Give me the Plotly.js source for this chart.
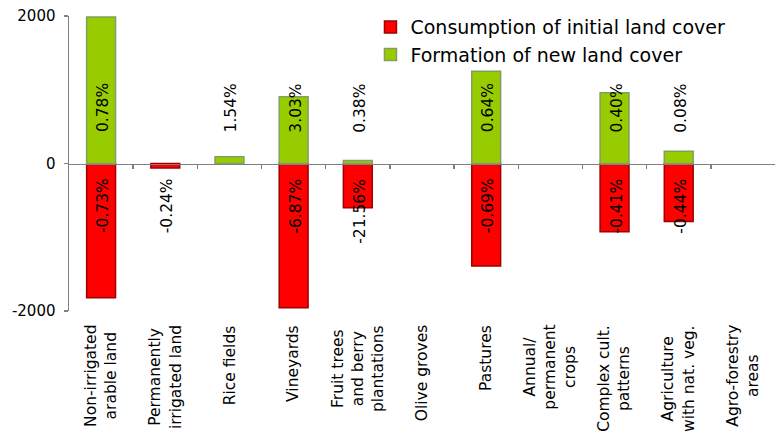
<!DOCTYPE html>
<html>
<head>
<meta charset="utf-8">
<script src="https://cdn.plot.ly/plotly-3.0.1.min.js"></script>
<style>html,body{margin:0;padding:0;background:#fff;}#chart{width:776px;height:435px;}</style>
</head>
<body>
<div id="chart"></div>
<script>
// ---- data ----
var categories = ["Non-irrigated arable land", "Permanently irrigated land", "Rice fields", "Vineyards",
  "Fruit trees and berry plantations", "Olive groves", "Pastures", "Annual/permanent crops",
  "Complex cult. patterns", "Agriculture with nat. veg.", "Agro-forestry areas"];
var tickLabels = ["Non-irrigated<br>arable land", "Permanently<br>irrigated land", "Rice fields", "Vineyards",
  "Fruit trees<br>and berry<br>plantations", "Olive groves", "Pastures", "Annual/<br>permanent<br>crops",
  "Complex cult.<br>patterns", "Agriculture<br>with nat. veg.", "Agro-forestry<br>areas"];
var consumption = [-1820, -60, null, -1955, -600, null, -1390, null, -925, -785, null];
var formation = [1985, null, 90, 905, 40, null, 1250, null, 958, 167, null];
var consumptionLabels = ["-0.73%", "-0.24%", null, "-6.87%", "-21.56%", null, "-0.69%", null, "-0.41%", "-0.44%", null];
var formationLabels = ["0.78%", null, "1.54%", "3.03%", "0.38%", null, "0.64%", null, "0.40%", "0.08%", null];
var seriesNames = ["Consumption of initial land cover", "Formation of new land cover"];
var yTicks = [-2000, 0, 2000];
var yTickText = ["-2000", "0", "2000"];

var yMin = -2000, yMax = 2000;

var traces = [
  {type: "bar", name: seriesNames[0], x: categories, y: consumption, width: 0.45,
   legendgroup: "a",
   marker: {color: "#FF0000", line: {color: "#A00000", width: 1.5}}, hoverinfo: "skip"},
  {type: "bar", name: seriesNames[1], x: categories, y: formation, width: 0.45,
   legendgroup: "b",
   marker: {color: "#99CC00", line: {color: "#7F9F63", width: 1.5}}, hoverinfo: "skip"}
];

var annotations = [];
var dataFont = {family: "DejaVu Sans, Verdana, sans-serif", size: 15.5, color: "#000"};
categories.forEach(function (c, i) {
  annotations.push({xref: "x", yref: "paper", x: c, y: -0.04, yanchor: "top", xanchor: "center",
    text: tickLabels[i], textangle: -90, showarrow: false, align: "center",
    font: {family: "DejaVu Sans, Verdana, sans-serif", size: 15.5, color: "#000"}});
  if (formationLabels[i]) annotations.push({xref: "x", yref: "y", x: c, y: 393, yanchor: "bottom",
    xanchor: "center", xshift: 2, text: formationLabels[i], textangle: -90, showarrow: false, font: dataFont});
  if (consumptionLabels[i]) annotations.push({xref: "x", yref: "y", x: c, y: -176, yanchor: "top",
    xanchor: "center", xshift: 2, text: consumptionLabels[i], textangle: -90, showarrow: false, font: dataFont});
});

var boundaries = categories.slice(1).map(function (c, i) { return i + 0.5; });

var layout = {
  width: 776, height: 435,
  margin: {l: 69, r: 1, t: 16, b: 124},
  paper_bgcolor: "#fff", plot_bgcolor: "#fff",
  barmode: "relative",
  showlegend: true,
  legend: {x: 0.427, y: 1.027, xanchor: "left", yanchor: "top", traceorder: "normal",
    tracegroupgap: 6, bgcolor: "rgba(0,0,0,0)",
    font: {family: "DejaVu Sans, Verdana, sans-serif", size: 19, color: "#000"}},
  xaxis: {type: "category", range: [-0.5, categories.length - 0.5], showticklabels: false,
    showline: false, ticks: "", showgrid: false, zeroline: false, fixedrange: true},
  xaxis2: {overlaying: "x", anchor: "free", position: (0 - yMin) / (yMax - yMin),
    range: [-0.5, categories.length - 0.5], tickvals: boundaries, ticks: "outside", ticklen: 4,
    tickcolor: "#808080", tickwidth: 1.5, showline: true, linecolor: "#808080", linewidth: 1.5,
    showticklabels: false, showgrid: false, zeroline: false},
  yaxis: {range: [yMin, yMax], tickvals: yTicks, ticktext: yTickText, ticks: "outside", ticklen: 4,
    tickcolor: "#808080", tickwidth: 1.5, showline: true, linecolor: "#808080", linewidth: 1.5,
    showgrid: false, zeroline: false, ticklabelstandoff: 5,
    tickfont: {family: "DejaVu Sans, Verdana, sans-serif", size: 15, color: "#000"}},
  annotations: annotations
};

// invisible trace to activate xaxis2
traces.push({type: "scatter", x: [0], y: [0], xaxis: "x2", mode: "markers",
  marker: {opacity: 0}, showlegend: false, hoverinfo: "skip"});

Plotly.newPlot("chart", traces, layout, {displayModeBar: false, staticPlot: true});
</script>
</body>
</html>
